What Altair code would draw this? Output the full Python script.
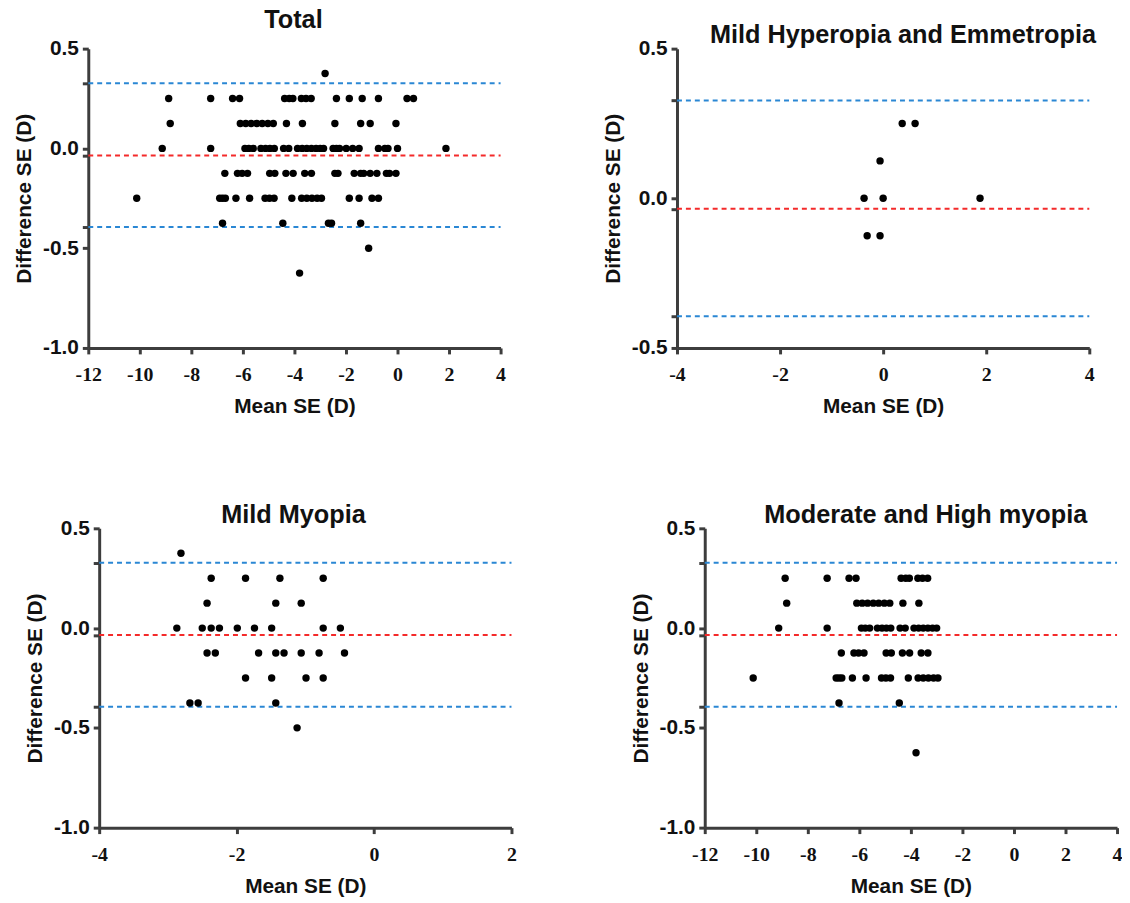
import altair as alt
import pandas as pd

# ---------------- data ----------------
# Mild Hyperopia and Emmetropia
he_x = [0.37, 0.62, -0.06, -0.37, 0.00, 1.88, -0.31, -0.06]
he_y = [0.25, 0.25, 0.125, 0.0, 0.0, 0.0, -0.125, -0.125]

# Mild Myopia
mm_x = [-2.81,
        -2.37, -1.87, -1.37, -0.74,
        -2.43, -1.43, -1.06,
        -2.87, -2.50, -2.37, -2.25, -1.99, -1.74, -1.49, -0.74, -0.49,
        -2.43, -2.31, -1.68, -1.43, -1.31, -1.06, -0.80, -0.43,
        -1.87, -1.49, -0.99, -0.74,
        -2.68, -2.56, -1.43,
        -1.12]
mm_y = [0.375,
        0.25, 0.25, 0.25, 0.25,
        0.125, 0.125, 0.125,
        0, 0, 0, 0, 0, 0, 0, 0, 0,
        -0.125, -0.125, -0.125, -0.125, -0.125, -0.125, -0.125, -0.125,
        -0.25, -0.25, -0.25, -0.25,
        -0.375, -0.375, -0.375,
        -0.5]

# Moderate and High myopia
mh_x = [-8.88, -7.25, -6.40, -6.13, -4.38, -4.20, -4.06, -3.73, -3.55, -3.35,
        -8.82, -6.10, -5.89, -5.68, -5.46, -5.25, -5.03, -4.82, -4.31, -3.69,
        -9.13, -7.25, -5.92, -5.77, -5.60, -5.30, -5.12, -4.95, -4.78, -4.42,
        -4.22, -3.88, -3.70, -3.52, -3.34, -3.16, -3.00,
        -6.70, -6.21, -6.03, -5.82, -4.96, -4.76, -4.33, -4.05, -3.60, -3.34,
        -10.12, -6.90, -6.79, -6.68, -6.27, -5.74, -5.14, -4.97, -4.79, -4.10,
        -3.72, -3.52, -3.32, -3.12, -2.95,
        -6.79, -4.45,
        -3.80]
mh_y = [0.25] * 10 + [0.125] * 10 + [0.0] * 17 + [-0.125] * 10 + [-0.25] * 15 \
       + [-0.375] * 2 + [-0.625]

# Total = all groups together
total_x = he_x + mm_x + mh_x
total_y = he_y + mm_y + mh_y

# Bland-Altman lines
bias = -0.035
loa_upper = 0.327
loa_lower = -0.394
line_values = [loa_upper, bias, loa_lower]
line_colors = ["#2a87d4", "#f42a2a", "#2a87d4"]

titles = ["Total", "Mild Hyperopia and Emmetropia", "Mild Myopia",
          "Moderate and High myopia"]

# ---------------- style ----------------
AXIS = "#3d3d3d"
TXT = "#111111"
W, H = 416, 302

Y_LABEL_EXPR = "replace(format(datum.value, '.1f'), '\u2212', '-')"


def panel(xs, ys, title, title_x, title_top, xdom, ydom, reach_left, reach_top):
    pts = pd.DataFrame({"x": xs, "y": ys})
    lines = pd.DataFrame({"x": [xdom[0]] * 3, "y": line_values,
                          "x2": [xdom[1]] * 3, "c": line_colors})
    major = [v for v in [0.5, 0.0, -0.5, -1.0] if ydom[0] <= v <= ydom[1]]
    ytick_vals = major + line_values
    xtick_vals = list(range(xdom[0], xdom[1] + 1, 2))

    xscale = alt.Scale(domain=xdom, nice=False, zero=False)
    yscale = alt.Scale(domain=ydom, nice=False, zero=False)

    xaxis = alt.Axis(values=xtick_vals, title="Mean SE (D)", grid=False,
                     domainColor=AXIS, domainWidth=3, tickColor=AXIS,
                     tickWidth=3, tickSize=6, labelFont="Liberation Serif",
                     labelFontSize=20, labelFontWeight="bold", labelColor=TXT,
                     labelPadding=11, labelFlush=False, labelOverlap=False,
                     labelExpr="'' + datum.value",
                     titleFont="Liberation Sans", titleFontSize=21,
                     titleFontWeight="bold", titleColor=TXT, titlePadding=11)
    yaxis = alt.Axis(values=ytick_vals, title="Difference SE (D)", grid=False,
                     domainColor=AXIS, domainWidth=3, tickColor=AXIS,
                     tickWidth=3, tickSize=6, labelFont="Liberation Sans",
                     labelFontSize=21, labelFontWeight="bold", labelColor=TXT,
                     labelPadding=4, labelFlush=False, labelOverlap=False,
                     labelExpr="abs(datum.value * 2 - round(datum.value * 2)) < 0.001 ? "
                               + Y_LABEL_EXPR + " : ''",
                     titleFont="Liberation Sans", titleFontSize=21,
                     titleFontWeight="bold", titleColor=TXT, titlePadding=8)

    X = alt.X("x:Q", scale=xscale, axis=xaxis)
    Y = alt.Y("y:Q", scale=yscale, axis=yaxis)

    rules = alt.Chart(lines).mark_rule(strokeDash=[5, 4], strokeWidth=2).encode(
        x=X, x2="x2:Q", y=Y,
        color=alt.Color("c:N", scale=None),
    )
    dots = alt.Chart(pts).mark_circle(size=56, color="black", opacity=1).encode(
        x=X, y=Y,
    )
    ttl = alt.Chart(pd.DataFrame({"t": [title]})).mark_text(
        font="Liberation Sans", fontSize=25.5, fontWeight="bold",
        align="center", baseline="top", color=TXT,
    ).encode(x=alt.value(title_x), y=alt.value(title_top), text="t:N")
    # invisible anchor fixing the panel's outer margin (left/top)
    anchor = alt.Chart(pd.DataFrame({"a": [0]})).mark_circle(
        opacity=0, size=1).encode(x=alt.value(-reach_left), y=alt.value(-reach_top))

    return alt.layer(rules, dots, ttl, anchor).properties(width=W, height=H)


p1 = panel(total_x, total_y, titles[0], 207, -41, [-12, 4], [-1.0, 0.5], 80, 41)
p2 = panel(he_x, he_y, titles[1], 228, -26, [-4, 4], [-0.5, 0.5], 80, 41)
p3 = panel(mm_x, mm_y, titles[2], 196, -25, [-4, 2], [-1.0, 0.5], 80, 26)
p4 = panel(mh_x, mh_y, titles[3], 223, -25, [-12, 4], [-1.0, 0.5], 80, 26)

# tiny invisible block used to nudge the lower-left panel to the right
spacer = alt.Chart(pd.DataFrame({"a": [0]})).mark_circle(opacity=0, size=1).encode(
    x=alt.value(0), y=alt.value(0)
).properties(width=1, height=1)

row1 = alt.hconcat(p1, p2, spacing=92)
row2 = alt.hconcat(alt.hconcat(spacer, p3, spacing=-71), p4, spacing=109)

chart = alt.vconcat(row1, row2, spacing=86).properties(
    padding={"left": 0, "top": -5, "right": 0, "bottom": 0},
    background="white",
).configure_view(stroke=None)

chart.save("out.html", embed_options={"renderer": "svg", "actions": False})
